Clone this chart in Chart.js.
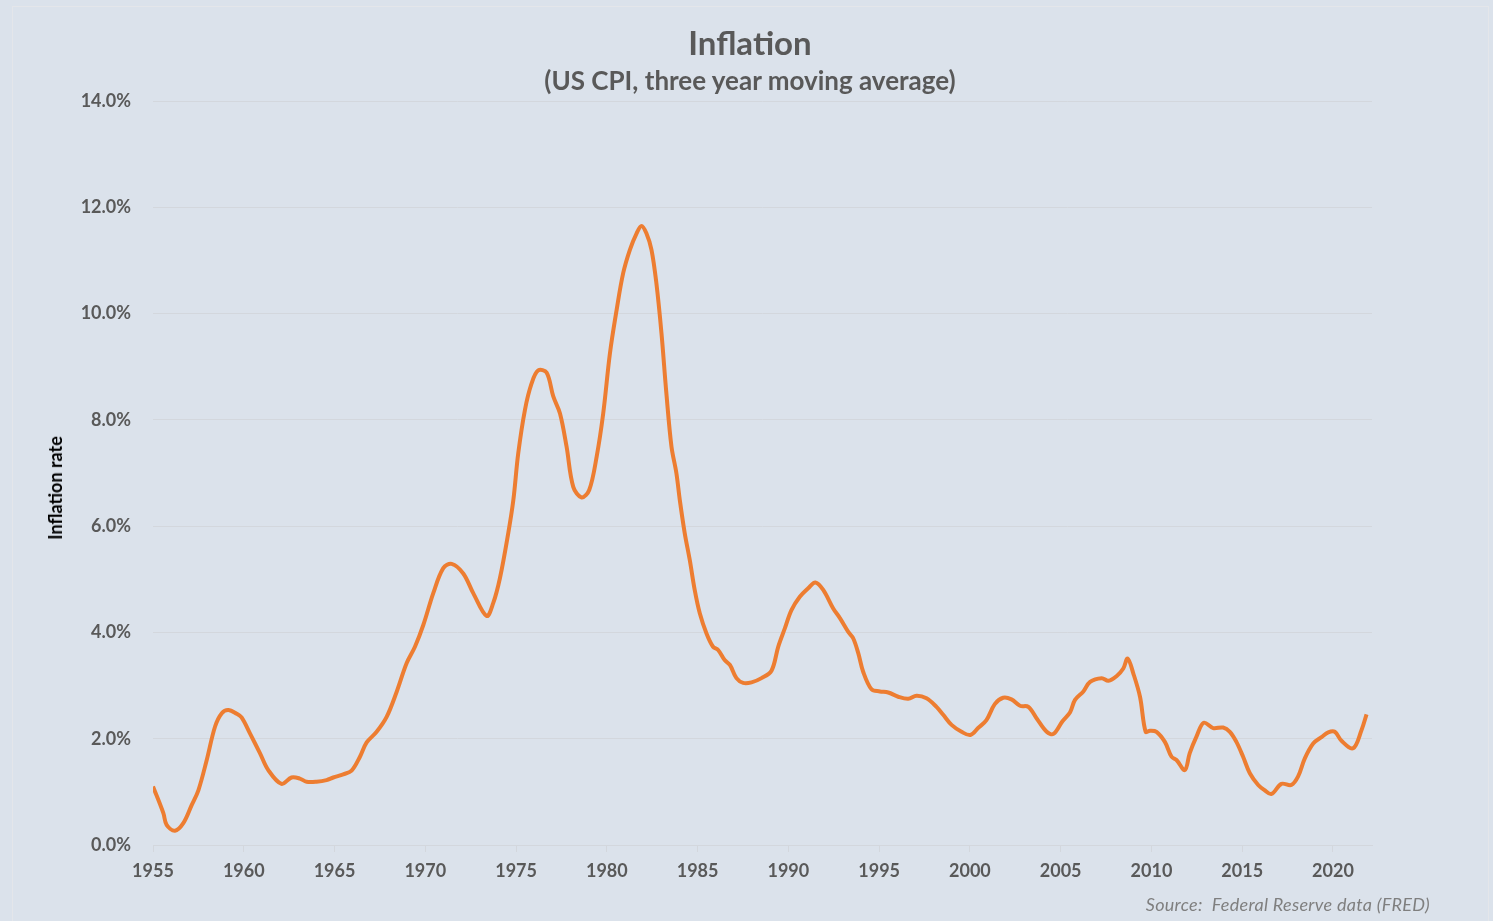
<!DOCTYPE html>
<html>
<head>
<meta charset="utf-8">
<script src="https://cdn.jsdelivr.net/npm/chart.js@4"></script>
<style>
  html, body { margin: 0; padding: 0; background: #dbe2eb; }
  #wrap { position: relative; width: 1493px; height: 921px; overflow: hidden; }
  #frame { position: absolute; left: 12px; top: 6px; width: 1477px; height: 930px;
           border: 1px solid #e4e6ea; box-sizing: border-box; }
  .title { position: absolute; left: 0; width: 1500px; text-align: center;
           font-family: Lato, sans-serif; font-weight: bold; color: #595959; white-space: nowrap; }
  #mainTitle { top: 22px; font-size: 33px; line-height: 40px; }
  #subTitle { top: 64px; font-size: 26px; line-height: 32px; }
  #yTitle { position: absolute; left: 55px; top: 488px; transform: translate(-50%, -50%) rotate(-90deg);
            font-family: Lato, sans-serif; font-weight: bold; font-size: 18px; color: #000; white-space: nowrap; }
  #source { position: absolute; right: 63px; top: 893px; font-family: Lato, sans-serif;
            font-style: italic; font-size: 18px; color: #7f7f7f; letter-spacing: 0.3px; }
  canvas { position: absolute; left: 0; top: 0; }
</style>
</head>
<body>
<div id="wrap">
  <div id="frame"></div>
  <canvas id="inflationChart" width="1493" height="921"></canvas>
  <div class="title" id="mainTitle">Inflation</div>
  <div class="title" id="subTitle">(US CPI, three year moving average)</div>
  <div id="yTitle">Inflation rate</div>
  <div id="source">Source:&nbsp; Federal Reserve data (FRED)</div>
</div>
<script>
// Year positions (decimal years) and US CPI 3-yr moving average, %
const years = [
  1955.00, 1955.57, 1955.75, 1956.21, 1956.67, 1957.13, 1957.50, 1957.96, 1958.42, 1958.79,
  1959.15, 1959.61, 1959.88, 1960.34, 1960.89, 1961.35, 1962.08, 1962.63, 1963.09, 1963.46,
  1964.01, 1964.56, 1964.93, 1965.48, 1965.94, 1966.40, 1966.77, 1967.32, 1967.87, 1968.42,
  1968.97, 1969.43, 1969.89, 1970.44, 1970.99, 1971.45, 1972.09, 1972.64, 1973.38, 1973.74,
  1974.11, 1974.57, 1974.85, 1975.12, 1975.49, 1975.86, 1976.22, 1976.68, 1977.05, 1977.42,
  1977.78, 1978.15, 1978.61, 1979.03, 1979.44, 1979.80, 1980.17, 1980.54, 1980.90, 1981.27,
  1981.64, 1981.91, 1982.18, 1982.46, 1982.73, 1983.01, 1983.28, 1983.56, 1983.83, 1984.02,
  1984.29, 1984.57, 1984.84, 1985.12, 1985.49, 1985.85, 1986.13, 1986.49, 1986.78, 1987.14,
  1987.51, 1987.97, 1988.52, 1989.07, 1989.44, 1989.81, 1990.17, 1990.63, 1991.09, 1991.49,
  1991.92, 1992.47, 1992.84, 1993.30, 1993.57, 1993.85, 1994.12, 1994.58, 1995.04, 1995.50,
  1996.05, 1996.60, 1997.06, 1997.61, 1998.16, 1998.53, 1998.99, 1999.54, 2000.03, 2000.45,
  2000.91, 2001.37, 2001.83, 2002.29, 2002.76, 2003.22, 2003.68, 2004.23, 2004.60, 2005.10,
  2005.52, 2005.79, 2006.25, 2006.62, 2007.26, 2007.63, 2008.09, 2008.45, 2008.69, 2009.00,
  2009.37, 2009.68, 2009.92, 2010.28, 2010.74, 2011.11, 2011.38, 2011.84, 2012.11, 2012.48,
  2012.88, 2013.40, 2013.95, 2014.32, 2014.68, 2015.05, 2015.42, 2015.88, 2016.24, 2016.61,
  2017.16, 2017.71, 2018.08, 2018.45, 2018.91, 2019.37, 2019.74, 2020.10, 2020.47, 2021.11,
  2021.57, 2021.85
];
const inflation = [
  1.10, 0.60, 0.38, 0.27, 0.41, 0.75, 1.03, 1.60, 2.23, 2.48,
  2.54, 2.47, 2.40, 2.10, 1.73, 1.41, 1.15, 1.27, 1.25, 1.19,
  1.19, 1.22, 1.27, 1.33, 1.40, 1.66, 1.93, 2.13, 2.41, 2.88,
  3.42, 3.73, 4.14, 4.74, 5.21, 5.29, 5.11, 4.74, 4.31, 4.55,
  5.02, 5.87, 6.49, 7.37, 8.19, 8.69, 8.93, 8.89, 8.44, 8.12,
  7.50, 6.74, 6.54, 6.68, 7.31, 8.12, 9.25, 10.07, 10.76, 11.20,
  11.51, 11.65, 11.51, 11.20, 10.57, 9.63, 8.50, 7.50, 7.00, 6.49,
  5.87, 5.36, 4.80, 4.36, 3.98, 3.73, 3.67, 3.48, 3.39, 3.14,
  3.05, 3.06, 3.14, 3.28, 3.73, 4.08, 4.42, 4.67, 4.83, 4.94,
  4.80, 4.45, 4.27, 4.01, 3.89, 3.61, 3.26, 2.93, 2.89, 2.87,
  2.79, 2.75, 2.81, 2.76, 2.60, 2.45, 2.26, 2.13, 2.07, 2.20,
  2.35, 2.65, 2.77, 2.74, 2.62, 2.60, 2.38, 2.13, 2.09, 2.33,
  2.50, 2.73, 2.89, 3.07, 3.14, 3.09, 3.18, 3.32, 3.51, 3.23,
  2.79, 2.13, 2.15, 2.13, 1.94, 1.66, 1.60, 1.41, 1.73, 2.04,
  2.30, 2.20, 2.21, 2.13, 1.94, 1.66, 1.35, 1.13, 1.03, 0.96,
  1.15, 1.13, 1.29, 1.63, 1.91, 2.03, 2.12, 2.13, 1.96, 1.82,
  2.16, 2.46
];
const yTicks = [0, 2, 4, 6, 8, 10, 12, 14];
const xTicks = [1955, 1960, 1965, 1970, 1975, 1980, 1985, 1990, 1995, 2000, 2005, 2010, 2015, 2020];

const points = years.map((yr, i) => ({ x: yr, y: inflation[i] }));
const labelGray = '#595959';
const gridGray = '#d3d7dd';

new Chart(document.getElementById('inflationChart'), {
    type: 'line',
    data: {
        datasets: [{
            label: 'Inflation',
            data: points,
            borderColor: '#ed7d31',
            borderWidth: 4,
            pointRadius: 0,
            tension: 0.35,
            fill: false
        }]
    },
    options: {
        responsive: false,
        animation: false,
        layout: { padding: { left: 0, right: 121, top: 101, bottom: 0 } },
        plugins: {
            legend: { display: false },
            tooltip: { enabled: false }
        },
        scales: {
            x: {
                type: 'linear',
                min: 1955,
                max: 2022.15,
                afterBuildTicks: scale => {
                    scale.ticks = xTicks.map(v => ({ value: v }));
                },
                afterFit: scale => { scale.height = 76; },
                ticks: {
                    color: labelGray,
                    font: { family: 'Lato', size: 18, weight: 'bold' },
                    padding: 8,
                    maxRotation: 0,
                    callback: v => String(v)
                },
                grid: { drawOnChartArea: false, drawTicks: true, tickLength: 7, color: gridGray },
                border: { color: gridGray }
            },
            y: {
                min: 0,
                max: 14,
                afterBuildTicks: scale => {
                    scale.ticks = yTicks.map(v => ({ value: v }));
                },
                afterFit: scale => { scale.width = 153; },
                ticks: {
                    color: labelGray,
                    font: { family: 'Lato', size: 18, weight: 'bold' },
                    padding: 22,
                    callback: v => v.toFixed(1) + '%'
                },
                grid: { color: gridGray, drawTicks: false },
                border: { display: false }
            }
        }
    }
});
</script>
</body>
</html>
